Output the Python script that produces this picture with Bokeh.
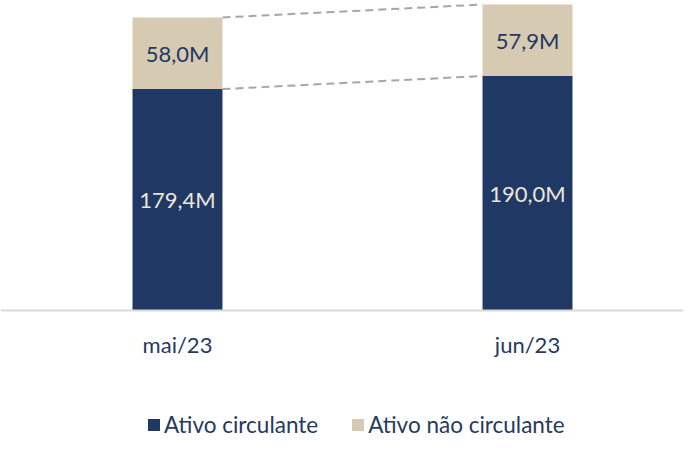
from bokeh.plotting import figure
from bokeh.models import ColumnDataSource, Range1d, Span, Legend, LegendItem
from bokeh.core.properties import value
from bokeh.embed import file_html
from bokeh.resources import INLINE

# ---- data ----
categories = ["mai/23", "jun/23"]
ativo_circulante = [179.4, 190.0]
ativo_nao_circulante = [58.0, 57.9]
labels_circulante = ["179,4M", "190,0M"]
labels_nao_circulante = ["58,0M", "57,9M"]
series_names = ["Ativo circulante", "Ativo não circulante"]

# ---- styling / layout ----
NAVY = "#1f3864"
BEIGE = "#d7cab2"
TEXT = "#263a5e"
FONT = value("Lato")

W, H = 683, 439
px_per_x = 350.0
x0_px = 177.0
px_per_y = 1.2342
base_px = 310.0
bar_w = 0.257

x_start = -x0_px / px_per_x
x_end = x_start + W / px_per_x
y_end = base_px / px_per_y
y_start = -(H - base_px) / px_per_y

xs = list(range(len(categories)))
totals = [a + b for a, b in zip(ativo_circulante, ativo_nao_circulante)]
src = ColumnDataSource(dict(
    x=xs,
    circ=ativo_circulante,
    total=totals,
    mid1=[a / 2 for a in ativo_circulante],
    mid2=[a + b / 2 for a, b in zip(ativo_circulante, ativo_nao_circulante)],
    lab1=labels_circulante,
    lab2=labels_nao_circulante,
    cat=categories,
    cat_y=[-34.0 / px_per_y] * len(categories),
))

p = figure(width=W, height=H, x_range=Range1d(x_start, x_end),
           y_range=Range1d(y_start, y_end), output_backend="svg",
           toolbar_location=None, min_border=0,
           x_axis_location=None, y_axis_location=None)
p.grid.visible = False
p.outline_line_color = None

# baseline
p.add_layout(Span(location=0, dimension="width", line_color="#d9d9d9", line_width=2))

# connector dashed lines
seg = ColumnDataSource(dict(
    x0=[xs[0] + bar_w / 2] * 2,
    x1=[xs[1] - bar_w / 2] * 2,
    y0=[totals[0], ativo_circulante[0]],
    y1=[totals[1], ativo_circulante[1]],
))
p.segment(x0="x0", y0="y0", x1="x1", y1="y1", source=seg,
          line_color="#a6a6a6", line_width=2, line_dash="8 5")

r1 = p.vbar(x="x", bottom=0, top="circ", width=bar_w, source=src,
            fill_color=NAVY, line_color=None)
r2 = p.vbar(x="x", bottom="circ", top="total", width=bar_w, source=src,
            fill_color=BEIGE, line_color=None)

p.text(x="x", y="mid1", text="lab1", source=src, text_align="center",
       text_baseline="middle", text_font=FONT, text_font_size="22px",
       text_color="#ebe5da")
p.text(x="x", y="mid2", text="lab2", source=src, text_align="center",
       text_baseline="middle", text_font=FONT, text_font_size="22px",
       text_color=NAVY)
p.text(x="x", y="cat_y", text="cat", source=src, text_align="center",
       text_baseline="middle", text_font=FONT, text_font_size="22px",
       text_color=TEXT)

legend = Legend(items=[LegendItem(label=series_names[0], renderers=[r1]),
                       LegendItem(label=series_names[1], renderers=[r2])],
                orientation="horizontal", location=(146, 1),
                border_line_color=None, background_fill_alpha=0,
                padding=0, margin=0, spacing=32, label_standoff=3,
                glyph_width=15, glyph_height=15,
                label_text_font="Lato", label_text_font_size="22.5px",
                label_text_color=TEXT)
p.add_layout(legend)

open("out.html", "w").write(file_html(p, INLINE))
